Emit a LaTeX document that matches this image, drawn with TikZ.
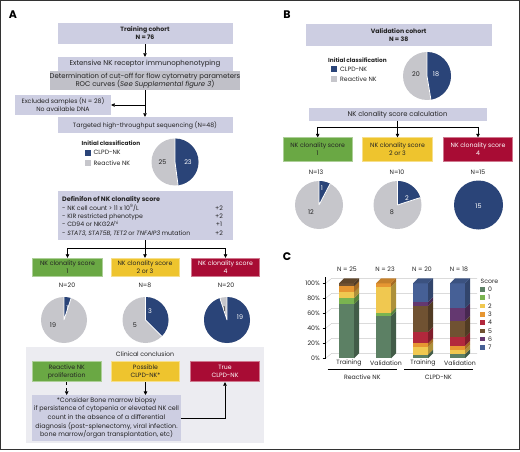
\documentclass[tikz,border=0pt]{standalone}
\usepackage{fontspec}
\setmainfont{Poppins}
\usepackage{tikz}
\usetikzlibrary{calc, arrows.meta}

\definecolor{lavbox}{RGB}{205,206,226}
\definecolor{rocbox}{RGB}{192,192,200}
\definecolor{clinbg}{RGB}{236,236,241}
\definecolor{scgreen}{RGB}{106,168,68}
\definecolor{scyellow}{RGB}{238,196,46}
\definecolor{scred}{RGB}{168,12,52}
\definecolor{pblue}{RGB}{42,68,120}
\definecolor{pgray}{RGB}{198,198,203}
\definecolor{txt}{RGB}{35,35,35}
\definecolor{s0}{RGB}{92,128,100}
\definecolor{s1}{RGB}{122,180,80}
\definecolor{s2}{RGB}{240,200,80}
\definecolor{s3}{RGB}{230,150,50}
\definecolor{s4}{RGB}{178,40,60}
\definecolor{s5}{RGB}{112,82,50}
\definecolor{s6}{RGB}{100,56,112}
\definecolor{s7}{RGB}{70,96,150}

\tikzset{
  flowbox/.style={fill=lavbox, text=txt, align=center, inner sep=0pt,
    font=\fontsize{6.2}{8}\selectfont},
  greenbox/.style={flowbox, fill=scgreen, draw=scgreen!55!white, line width=0.8pt},
  yellowbox/.style={flowbox, fill=scyellow, draw=scyellow!55!white, line width=0.8pt},
  redbox/.style={flowbox, fill=scred, draw=scred!55!white, text=white, line width=0.8pt},
  conn/.style={-{Triangle[length=3.5pt,width=3.5pt]}, line width=0.6pt},
  plain/.style={line width=0.6pt},
  panel/.style={font=\bfseries\fontsize{11}{11}\selectfont, inner sep=0pt},
  txtnode/.style={font=\fontsize{6.2}{8}\selectfont, text=txt, inner sep=0pt},
  legtitle/.style={txtnode, font=\bfseries\fontsize{5.8}{8}\selectfont},
  pielbl/.style={txtnode, font=\fontsize{6.4}{7}\selectfont},
  pielblw/.style={pielbl, text=white},
  grid3d/.style={draw=black!22, line width=0.4pt},
}

% pie: centre, radius, blue count, total
\newcommand{\nkpie}[4]{%
  \pgfmathsetmacro{\pieend}{-90+360*#3/#4}
  \fill[pgray] (#1) circle (#2);
  \fill[pblue] (#1) -- ++(-90:#2) arc[start angle=-90, end angle=\pieend, radius=#2] -- cycle;
  \draw[white, line width=0.8pt] (#1) -- ++(-90:#2) (#1) -- ++(\pieend:#2);
}

% 3D bar: left x, segments lo/hi/colour, top colour
\newcommand{\cbar}[3]{%
  \foreach \lo/\hi/\col in {#2} {
    \fill[\col] (#1,{358.3-0.75*\lo}) rectangle (#1+15,{358.3-0.75*\hi});
    \fill[\col!72!black] (#1+15,{358.3-0.75*\lo}) -- (#1+20,{353.3-0.75*\lo})
      -- (#1+20,{353.3-0.75*\hi}) -- (#1+15,{358.3-0.75*\hi}) -- cycle;
  }
  \fill[#3!85!black] (#1,283.3) -- (#1+5,278.3) -- (#1+20,278.3) -- (#1+15,283.3) -- cycle;
}

\begin{document}
\begin{tikzpicture}[x=1pt,y=-1pt]
\useasboundingbox (0,0) rectangle (520,452);
\draw[line width=0.8pt, black!80] (0.4,0.4) rectangle (519.4,449.6);

%% panel A
\node[panel] (labA) at (13,15) {A};
\node[flowbox, minimum width=175, minimum height=21] (train) at (145,33.5)
  {\textbf{Training cohort}\\\textbf{N = 76}};
\node[flowbox, minimum width=175, minimum height=14, font=\fontsize{7}{8}\selectfont] (ext) at (145,64)
  {Extensive NK receptor immunophenotyping};
\node[flowbox, fill=rocbox, minimum width=175, minimum height=19, font=\fontsize{6.9}{8.4}\selectfont] (roc) at (145,80.5)
  {Determination of cut-off for flow cytometry parameters\\ROC curves (\textit{See Supplemental figure 3})};
\node[flowbox, minimum width=96, minimum height=20] (excl) at (63,105)
  {Excluded samples (N = 28)\\No available DNA};
\node[flowbox, minimum width=175, minimum height=16] (seq) at (145,125)
  {Targeted high-throughput sequencing (N=48)};
\draw[conn] (train.south) -- (ext.north);
\draw[conn] (roc.south) -- (seq.north);
\coordinate (brA) at (roc.south |- excl.east);
\draw[conn] (brA) -- (excl.east);

\node[legtitle, anchor=west] (iclA) at (81.5,143.5) {Initial classification};
\fill[pblue] (84.5,149.5) rectangle ++(6,6);
\fill[pgray] (84.5,160) rectangle ++(6,6);
\node[txtnode, anchor=west] (clpdA) at (93.5,152.5) {CLPD-NK};
\node[txtnode, anchor=west] (reacA) at (93.5,163) {Reactive NK};
\coordinate (pieA) at (175,162);
\nkpie{pieA}{23.5}{23}{48}
\node[pielblw] (pA1) at (188,162) {23};
\node[pielbl] (pA2) at (162.5,162) {25};

\node[flowbox, minimum width=175, minimum height=49] (def) at (145,215.5) {};
\node[txtnode, anchor=base west, font=\bfseries\fontsize{6.4}{8}\selectfont] (defT) at (62,201.8) {Definifon of NK clonality score};
\node[txtnode, anchor=base west] (def1) at (62,210) {- NK cell count > 11 x 10\textsuperscript{9}/L};
\node[txtnode, anchor=base west] (def2) at (62,218.4) {- KIR restricted phenotype};
\node[txtnode, anchor=base west] (def3) at (62,226.7) {- CD94 or NKG2A\textsuperscript{hi}};
\node[txtnode, anchor=base west] (def4) at (62,235) {- \textit{STAT3}, \textit{STAT5B}, \textit{TET2} or \textit{TNFAIP3} mutation};
\node[txtnode, anchor=base] (pt1) at (219,210) {+2};
\node[txtnode, anchor=base] (pt2) at (219,218.4) {+2};
\node[txtnode, anchor=base] (pt3) at (219,226.7) {+1};
\node[txtnode, anchor=base] (pt4) at (219,235) {+2};

\node[greenbox, minimum width=70, minimum height=18.5] (sA1) at (67.5,267.5) {NK clonality score\\1};
\node[yellowbox, minimum width=68, minimum height=18.5] (sA2) at (145,267.5) {NK clonality score\\2 or 3};
\node[redbox, minimum width=68, minimum height=18.5] (sA3) at (225.5,267.5) {NK clonality score\\4};
\draw[plain] (def.south) -- ++(0,8) coordinate (spA);
\draw[plain] (sA1.north |- spA) -- (sA3.north |- spA);
\draw[conn] (sA1.north |- spA) -- (sA1.north);
\draw[conn] (spA) -- (sA2.north);
\draw[conn] (sA3.north |- spA) -- (sA3.north);

\node[txtnode] (nA1) at (67,285.5) {N=20};
\node[txtnode] (nA2) at (145,285.5) {N=8};
\node[txtnode] (nA3) at (226,285.5) {N=20};
\coordinate (pieA1) at (64,320);
\coordinate (pieA2) at (145.5,320);
\coordinate (pieA3) at (227,320);
\nkpie{pieA1}{23}{1}{20}
\nkpie{pieA2}{23}{3}{8}
\nkpie{pieA3}{23}{19}{20}
\node[pielblw] (pA11) at (67.5,308.5) {1};
\node[pielbl] (pA12) at (53,325) {19};
\node[pielblw] (pA21) at (150,311) {3};
\node[pielbl] (pA22) at (135,325) {5};
\node[pielbl] (pA31) at (224.5,309.5) {1};
\node[pielblw] (pA32) at (240,317) {19};

\fill[clinbg] (25.7,346.7) rectangle (264,443.3);
\node[txtnode] (clin) at (145,354) {Clinical conclusion};
\node[greenbox, minimum width=69, minimum height=20.5] (cA1) at (66.7,371.5) {Reactive NK\\proliferation};
\node[yellowbox, minimum width=68, minimum height=20.5] (cA2) at (145.5,371.5) {Possible\\CLPD-NK*};
\node[redbox, minimum width=69, minimum height=20.5] (cA3) at (225,371.5) {True\\CLPD-NK};
\node[flowbox, minimum width=148.5, minimum height=45.7, font=\fontsize{6.4}{8.6}\selectfont] (consider) at (106.5,418)
  {*Consider Bone marrow biopsy\\if persistence of cytopenia or elevated NK cell\\count in the absence of a differential\\diagnosis (post-splenectomy, viral infection.\\bone marrow/organ transplantation, etc)};
\draw[conn, dashed] (cA1.south) -- (cA1.south |- consider.north);
\draw[conn] (cA2.south) -- (cA2.south |- consider.north);
\draw[conn] (consider.east) -- (cA3.south |- consider.east) -- (cA3.south);

%% panel B
\node[panel] (labB) at (287,15) {B};
\node[flowbox, minimum width=186, minimum height=22] (valid) at (398.7,35)
  {\textbf{Validation cohort}\\\textbf{N = 38}};
\node[legtitle, anchor=west] (iclB) at (328,60) {Initial classification};
\fill[pblue] (330.5,66) rectangle ++(6,6);
\fill[pgray] (330.5,76) rectangle ++(6,6);
\node[txtnode, anchor=west] (clpdB) at (340,69) {CLPD-NK};
\node[txtnode, anchor=west] (reacB) at (340,79) {Reactive NK};
\coordinate (pieB) at (427,76);
\nkpie{pieB}{24}{18}{38}
\node[pielblw] (pB1) at (436,74) {18};
\node[pielbl] (pB2) at (416,74) {20};

\node[flowbox, minimum width=178, minimum height=12.5, font=\fontsize{6.8}{9}\selectfont] (calc) at (397.5,114.5)
  {NK clonality score calculation};
\node[greenbox, minimum width=69, minimum height=23.5] (sB1) at (317.7,149.5) {NK clonality score\\1};
\node[yellowbox, minimum width=69.5, minimum height=23.5] (sB2) at (397.5,149.5) {NK clonality score\\2 or 3};
\node[redbox, minimum width=69.5, minimum height=23.5] (sB3) at (478,149.5) {NK clonality score\\4};
\draw[plain] (calc.south) -- ++(0,6) coordinate (spB);
\draw[plain] (sB1.north |- spB) -- (sB3.north |- spB);
\draw[conn] (sB1.north |- spB) -- (sB1.north);
\draw[conn] (spB) -- (sB2.north);
\draw[conn] (sB3.north |- spB) -- (sB3.north);

\node[txtnode] (nB1) at (316,172.5) {N=13};
\node[txtnode] (nB2) at (397,172.5) {N=10};
\node[txtnode] (nB3) at (478,172.5) {N=15};
\coordinate (pieB1) at (319,205);
\coordinate (pieB2) at (397.5,205);
\coordinate (pieB3) at (478.5,205);
\nkpie{pieB1}{24}{1}{13}
\nkpie{pieB2}{24}{2}{10}
\fill[pblue] (pieB3) circle (24.5);
\node[pielblw] (pB11) at (322,188.5) {1};
\node[pielbl] (pB12) at (311,212) {12};
\node[pielblw] (pB21) at (407,198) {2};
\node[pielbl] (pB22) at (392,212) {8};
\node[pielblw] (pB31) at (478.5,206) {15};

%% panel C
\node[panel] (labC) at (287,257) {C};
\foreach \p in {0,20,...,100} {
  \draw[grid3d] (325.7,{358.3-0.75*\p}) -- ++(6,-5) -- (477,{353.3-0.75*\p});
  \draw[plain] (322.5,{358.3-0.75*\p}) -- (325.7,{358.3-0.75*\p});
  \node[txtnode, anchor=east] (yl\p) at (320,{358.3-0.75*\p}) {\p\%};
}
\draw[plain] (325.7,277) -- (325.7,359);

\cbar{339}{0/72/s0, 72/80/s1, 80/88/s2, 88/96/s3, 96/100/s5}{s5}
\cbar{376}{0/56.5/s0, 56.5/60.9/s1, 60.9/95.7/s2, 95.7/100/s3}{s3}
\cbar{413}{0/5/s0, 5/15/s2, 15/20/s3, 20/35/s4, 35/70/s5, 70/75/s6, 75/100/s7}{s7}
\cbar{450}{0/5.6/s0, 5.6/11.1/s2, 11.1/16.7/s3, 16.7/27.8/s4, 27.8/50/s5, 50/66.7/s6, 66.7/100/s7}{s7}

\node[txtnode] (nC1) at (347,269) {N = 25};
\node[txtnode] (nC2) at (385,269) {N = 23};
\node[txtnode] (nC3) at (422,269) {N = 20};
\node[txtnode] (nC4) at (459,269) {N = 18};
\node[txtnode] (xC1) at (349,363) {Training};
\node[txtnode] (xC2) at (386,363) {Validation};
\node[txtnode] (xC3) at (423,363) {Training};
\node[txtnode] (xC4) at (460,363) {Validation};
\coordinate (gR1) at (327.7,369.3);
\coordinate (gR2) at (396.7,369.3);
\coordinate (gC1) at (404,369.3);
\coordinate (gC2) at (472.7,369.3);
\draw[plain] (gR1) -- (gR2);
\draw[plain] (gC1) -- (gC2);
\node[txtnode] (grpR) at (362.3,377.5) {Reactive NK};
\node[txtnode] (grpC) at (438.3,377.5) {CLPD-NK};

\node[txtnode] (scoreT) at (489.5,281) {Score};
\foreach \i in {0,...,7} {
  \fill[s\i] (480,{287+8.3*\i}) rectangle ++(4.6,4.6);
  \node[txtnode, anchor=west] (sc\i) at (488,{289.3+8.3*\i}) {\i};
}
\end{tikzpicture}
\end{document}
